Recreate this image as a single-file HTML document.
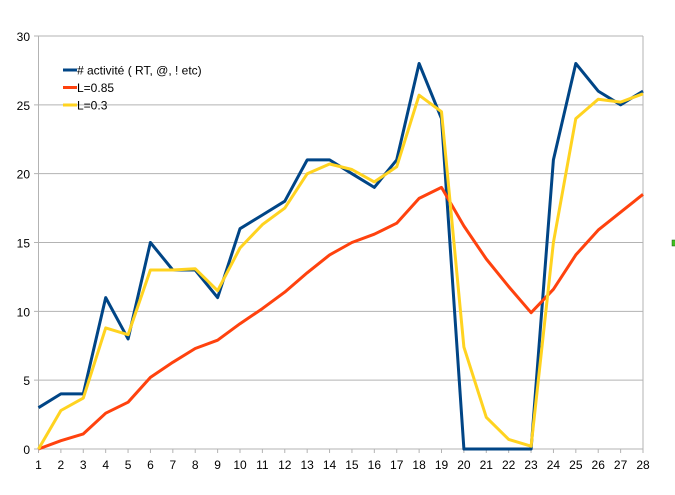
<!DOCTYPE html>
<html><head><meta charset="utf-8"><style>
html,body{margin:0;padding:0;background:#fff;width:675px;height:495px;overflow:hidden}
svg{display:block;font-family:"Liberation Sans",sans-serif}
</style></head><body>
<svg id="c" width="675" height="495" xmlns="http://www.w3.org/2000/svg"></svg>
<script>
const s=document.getElementById('c');
const X0=38.5,STEP=(643-38.5)/27,Y0=449,YS=(449-36)/30;
const fx=i=>X0+i*STEP, fy=v=>Y0-v*YS;
let h='';
for(let k=0;k<=6;k++){const y=fy(k*5);
 h+=`<line x1="34" y1="${y}" x2="643" y2="${y}" stroke="#b3b3b3" stroke-width="1"/>`;
 h+=`<text x="30" y="${y+5}" font-size="12" text-anchor="end" fill="#000">${k*5}</text>`;}
h+=`<line x1="38.5" y1="36" x2="38.5" y2="453" stroke="#b3b3b3"/>`;
h+=`<line x1="643" y1="36" x2="643" y2="449" stroke="#b3b3b3"/>`;
for(let i=0;i<28;i++){const x=fx(i);
 h+=`<line x1="${x}" y1="449" x2="${x}" y2="453" stroke="#b3b3b3"/>`;
 h+=`<text x="${x}" y="469" font-size="12" text-anchor="middle" fill="#000">${i+1}</text>`;}
const B=[3,4,4,11,8,15,13,13,11,16,17,18,21,21,20,19,21,28,24,0,0,0,0,21,28,26,25,26];
const O=[0,0.6,1.1,2.6,3.4,5.2,6.3,7.3,7.9,9.1,10.2,11.4,12.8,14.1,15,15.6,16.4,18.2,19,16.2,13.8,11.8,9.9,11.6,14.1,15.9,17.2,18.5];
const Yl=[0,2.8,3.7,8.8,8.3,13,13,13.1,11.5,14.6,16.3,17.5,20,20.7,20.3,19.4,20.5,25.7,24.5,7.4,2.3,0.7,0.2,15,24,25.4,25.2,25.8];
const pl=(d,c)=>`<polyline fill="none" stroke="${c}" stroke-width="3" stroke-linejoin="round" points="${d.map((v,i)=>fx(i).toFixed(1)+','+fy(v).toFixed(1)).join(' ')}"/>`;
h+=pl(B,'#004586')+pl(O,'#ff420e')+pl(Yl,'#ffd320');
const L=[['# activité ( RT, @, ! etc)','#004586'],['L=0.85','#ff420e'],['L=0.3','#ffd320']];
L.forEach((l,i)=>{const y=70+i*17.5;
 h+=`<line x1="63" y1="${y}" x2="77" y2="${y}" stroke="${l[1]}" stroke-width="3"/>`;
 h+=`<text x="77" y="${y+4.5}" font-size="12" fill="#000">${l[0]}</text>`;});
h+=`<rect x="672" y="240" width="4" height="6" fill="#3fbf1f" stroke="#1a5a10" stroke-width="0.5"/>`;
s.innerHTML=h;
</script>
</body></html>
